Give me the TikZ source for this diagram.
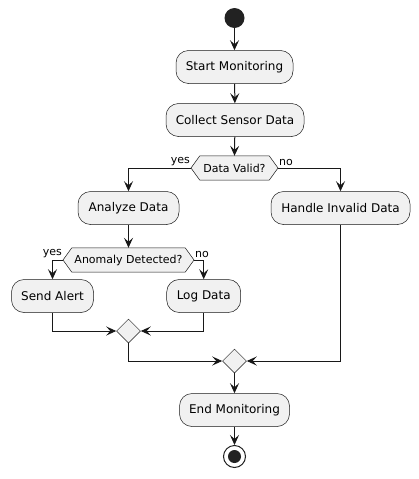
\documentclass[tikz,border=0pt]{standalone}
\usepackage{fontspec}
\setmainfont{DejaVu Sans}
\usetikzlibrary{arrows.meta,shapes.geometric,calc}
\definecolor{actfill}{HTML}{F1F1F1}
\definecolor{linec}{HTML}{181818}
\definecolor{dotc}{HTML}{222222}
\tikzset{
  act/.style={draw=linec, line width=0.5pt, fill=actfill, rounded corners=12.5pt,
    minimum height=33pt, inner sep=0pt, font=\fontsize{12}{14}\selectfont, text=black},
  hextext/.style={inner sep=0pt, minimum height=24pt, font=\fontsize{11}{13}\selectfont, text=black},
  hexbox/.style={draw=linec, line width=0.5pt, fill=actfill},
  merge/.style={diamond, draw=linec, line width=0.5pt, fill=actfill, minimum width=24pt, minimum height=24pt, inner sep=0pt},
  arr/.style={draw=linec, line width=1pt, -{Stealth[length=10pt,width=9pt,inset=4pt]}},
  lbl/.style={font=\fontsize{11}{13}\selectfont, inner sep=1pt, text=black}
}
\begin{document}
\begin{tikzpicture}[x=1pt,y=-1pt]
\useasboundingbox (0,0) rectangle (419,479);
% start
\node[circle, fill=dotc, minimum size=20pt, inner sep=0pt] (s0) at (234.5,18) {};
\node[act, minimum width=117pt] (a1) at (234.5,67) {Start Monitoring};
\node[act, minimum width=138pt] (a2) at (235,120) {Collect Sensor Data};
% decision 1
\node[hextext, minimum width=69pt] (d1) at (234.5,168) {};
\coordinate (d1l) at (191,168);
\coordinate (d1r) at (278,168);
\path[hexbox] (d1l) -- (d1.north west) -- (d1.north east) -- (d1r) -- (d1.south east) -- (d1.south west) -- cycle;
\node[hextext] at (d1) {Data Valid?};
\node[act, minimum width=101pt] (a3) at (128.5,208) {Analyze Data};
\node[act, minimum width=139pt] (a6) at (340.5,208) {Handle Invalid Data};
% decision 2
\node[hextext, minimum width=113pt] (d2) at (128.5,260) {};
\coordinate (d2l) at (63,260);
\coordinate (d2r) at (194,260);
\path[hexbox] (d2l) -- (d2.north west) -- (d2.north east) -- (d2r) -- (d2.south east) -- (d2.south west) -- cycle;
\node[hextext] at (d2) {Anomaly Detected?};
\node[act, minimum width=82pt] (a4) at (52.5,296) {Send Alert};
\node[act, minimum width=74pt] (a5) at (203.7,296) {Log Data};
\node[merge] (m1) at (128.5,331) {};
\node[merge] (m2) at (234.5,361) {};
\node[act, minimum width=110pt] (a7) at (234.5,410) {End Monitoring};
% end
\node[circle, draw=dotc, line width=1pt, fill=white, minimum size=22pt, inner sep=0pt] (e0) at (234.5,456.5) {};
\node[circle, fill=dotc, minimum size=13pt, inner sep=0pt] (e1) at (e0) {};
% connectors
\draw[arr] (s0) -- (a1);
\draw[arr] (a1) -- (a2);
\draw[arr] (a2) -- (d1.north);
\draw[arr] (d1l) -| (a3.north);
\draw[arr] (d1r) -| (a6.north);
\node[lbl, anchor=south east] at ($(d1l)+(0,-1)$) {yes};
\node[lbl, anchor=south west] at ($(d1r)+(0,-1)$) {no};
\draw[arr] (a3) -- (d2.north);
\draw[arr] (d2l) -| (a4.north);
\draw[arr] (d2r) -| (a5.north);
\node[lbl, anchor=south east] at ($(d2l)+(0,-1)$) {yes};
\node[lbl, anchor=south west] at ($(d2r)+(0,-1)$) {no};
\draw[arr] (a4.south) |- (m1.west);
\draw[arr] (a5.south) |- (m1.east);
\draw[arr] (m1.south) |- (m2.west);
\draw[arr] (a6.south) |- (m2.east);
\draw[arr] (m2) -- (a7);
\draw[arr] (a7) -- (e0);
\end{tikzpicture}
\end{document}
